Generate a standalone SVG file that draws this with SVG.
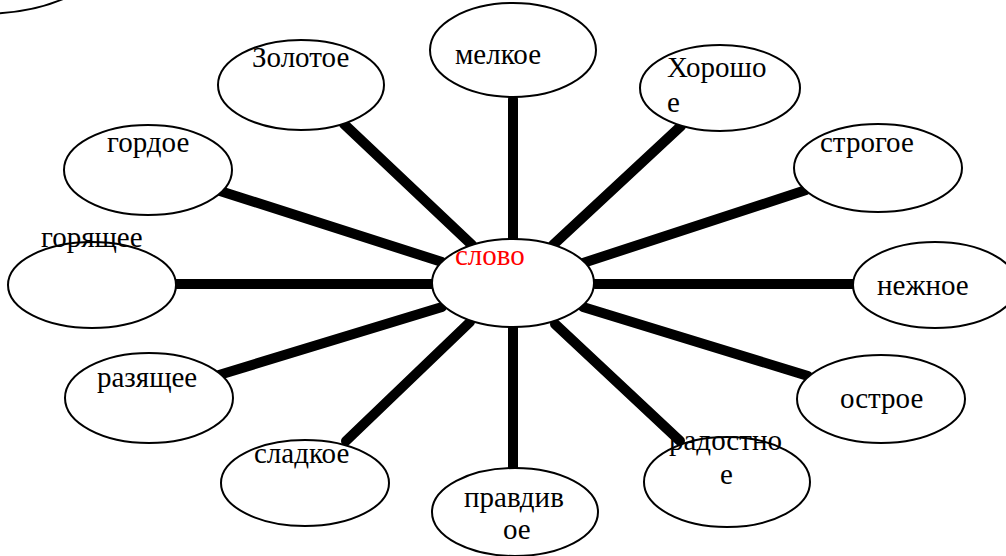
<svg xmlns="http://www.w3.org/2000/svg" width="1006" height="556" viewBox="0 0 1006 556">
<style>
.n{fill:#fff;stroke:#000;stroke-width:2}
.t{font-family:'Liberation Serif','Times New Roman','DejaVu Serif',serif;font-size:29px;fill:#000}
.r{font-family:'Liberation Serif','Times New Roman','DejaVu Serif',serif;font-size:29px;fill:#f00}
.c{stroke:#000;stroke-width:10;stroke-linecap:round;fill:none}
</style>
<rect width="1006" height="556" fill="#fff"/>
<g id="connectors">
<line class="c" x1="513" y1="99" x2="513" y2="240"/>
<line class="c" x1="681" y1="126" x2="553" y2="245"/>
<line class="c" x1="806" y1="190" x2="583" y2="263"/>
<line class="c" x1="853" y1="284" x2="595" y2="284"/>
<line class="c" x1="808" y1="376" x2="583" y2="307"/>
<line class="c" x1="680" y1="441" x2="555" y2="324"/>
<line class="c" x1="513" y1="327" x2="513" y2="467"/>
<line class="c" x1="346" y1="441" x2="470" y2="322"/>
<line class="c" x1="219" y1="375" x2="442" y2="307"/>
<line class="c" x1="175" y1="284" x2="433" y2="284"/>
<line class="c" x1="220" y1="191" x2="442" y2="262"/>
<line class="c" x1="344" y1="124" x2="472" y2="245"/>
</g>
<g id="corner"><ellipse class="n" cx="-20" cy="-42" rx="122" ry="56"/></g>
<g id="center"><ellipse class="n" cx="513" cy="283" rx="81" ry="44"/><text class="r" x="455" y="265">слово</text></g>
<g id="n1"><ellipse class="n" cx="301" cy="85" rx="83" ry="45"/><text class="t" x="252" y="67">Золотое</text></g>
<g id="n2"><ellipse class="n" cx="513" cy="50" rx="83" ry="47"/><text class="t" x="455" y="64">мелкое</text></g>
<g id="n3"><ellipse class="n" cx="720" cy="88" rx="80" ry="43"/><text class="t" x="667" y="77">Хорошо</text><text class="t" x="667" y="112">е</text></g>
<g id="n4"><ellipse class="n" cx="148" cy="170" rx="84" ry="45"/><text class="t" x="107" y="152">гордое</text></g>
<g id="n5"><ellipse class="n" cx="878" cy="168" rx="84" ry="44"/><text class="t" x="820" y="152">строгое</text></g>
<g id="n6"><ellipse class="n" cx="92" cy="285" rx="84" ry="43"/><text class="t" x="41" y="247">горящее</text></g>
<g id="n7"><ellipse class="n" cx="935" cy="285" rx="82" ry="43"/><text class="t" x="877" y="295">нежное</text></g>
<g id="n8"><ellipse class="n" cx="149" cy="398" rx="84" ry="45"/><text class="t" x="97" y="387">разящее</text></g>
<g id="n9"><ellipse class="n" cx="881" cy="399" rx="84" ry="44"/><text class="t" x="840" y="408">острое</text></g>
<g id="n10"><ellipse class="n" cx="305" cy="483" rx="84" ry="43"/><text class="t" x="254" y="463">сладкое</text></g>
<g id="n11"><ellipse class="n" cx="515" cy="512" rx="83" ry="44"/><text class="t" x="464" y="507">правдив</text><text class="t" x="503" y="539">ое</text></g>
<g id="n12"><ellipse class="n" cx="727" cy="482" rx="83" ry="45"/><text class="t" x="669" y="450">радостно</text><text class="t" x="720" y="484">е</text></g>
</svg>
